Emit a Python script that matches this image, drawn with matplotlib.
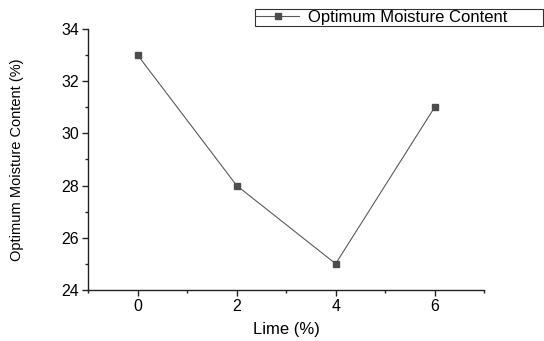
import matplotlib
matplotlib.use("Agg")
import matplotlib.pyplot as plt
from matplotlib.ticker import MultipleLocator

lime = [0, 2, 4, 6]
omc = [33, 28, 25, 31]

plt.rcParams['font.family'] = ['Liberation Sans', 'DejaVu Sans']

fig = plt.figure(figsize=(5.44, 3.41), dpi=100)
ax = fig.add_axes([0.162, 0.150, 0.728, 0.765])

ax.plot(lime, omc, color='#5a5a5a', lw=0.8, marker='s', ms=5,
        mfc='#4d4d4d', mec='#4d4d4d', label='Optimum Moisture Content')

ax.set_xlim(-1, 7)
ax.set_ylim(24, 34)
ax.xaxis.set_major_locator(MultipleLocator(2))
ax.xaxis.set_minor_locator(MultipleLocator(1))
ax.yaxis.set_major_locator(MultipleLocator(2))
ax.yaxis.set_minor_locator(MultipleLocator(1))
ax.spines['top'].set_visible(False)
ax.spines['right'].set_visible(False)
for s in ['left', 'bottom']:
    ax.spines[s].set_linewidth(1.0)
    ax.spines[s].set_color('#222222')
ax.tick_params(which='major', direction='out', length=4, width=1.0, labelsize=11.5,
               colors='#222222', pad=2.5)
ax.tick_params(which='minor', direction='out', length=2.5, width=1.0, colors='#222222')
for lab in ax.get_xticklabels() + ax.get_yticklabels():
    lab.set_color('black')

ax.set_xlabel('Lime (%)', fontsize=12, labelpad=6)
ax.set_ylabel('Optimum Moisture Content (%)', fontsize=10.5)
ax.yaxis.set_label_coords(-0.162, 0.5)

# legend box spans from x=255px to the right edge of the figure
leg = fig.legend(loc='upper left', bbox_to_anchor=(255 / 544, 0.974, 1 - 255 / 544 - 0.002, 0.0),
                 mode='expand', fontsize=12, frameon=True, fancybox=False, edgecolor='black',
                 borderpad=0.05, handlelength=2.6, handletextpad=0.5, borderaxespad=0)
leg.get_frame().set_linewidth(0.8)

fig.savefig('out.png', dpi=100)
